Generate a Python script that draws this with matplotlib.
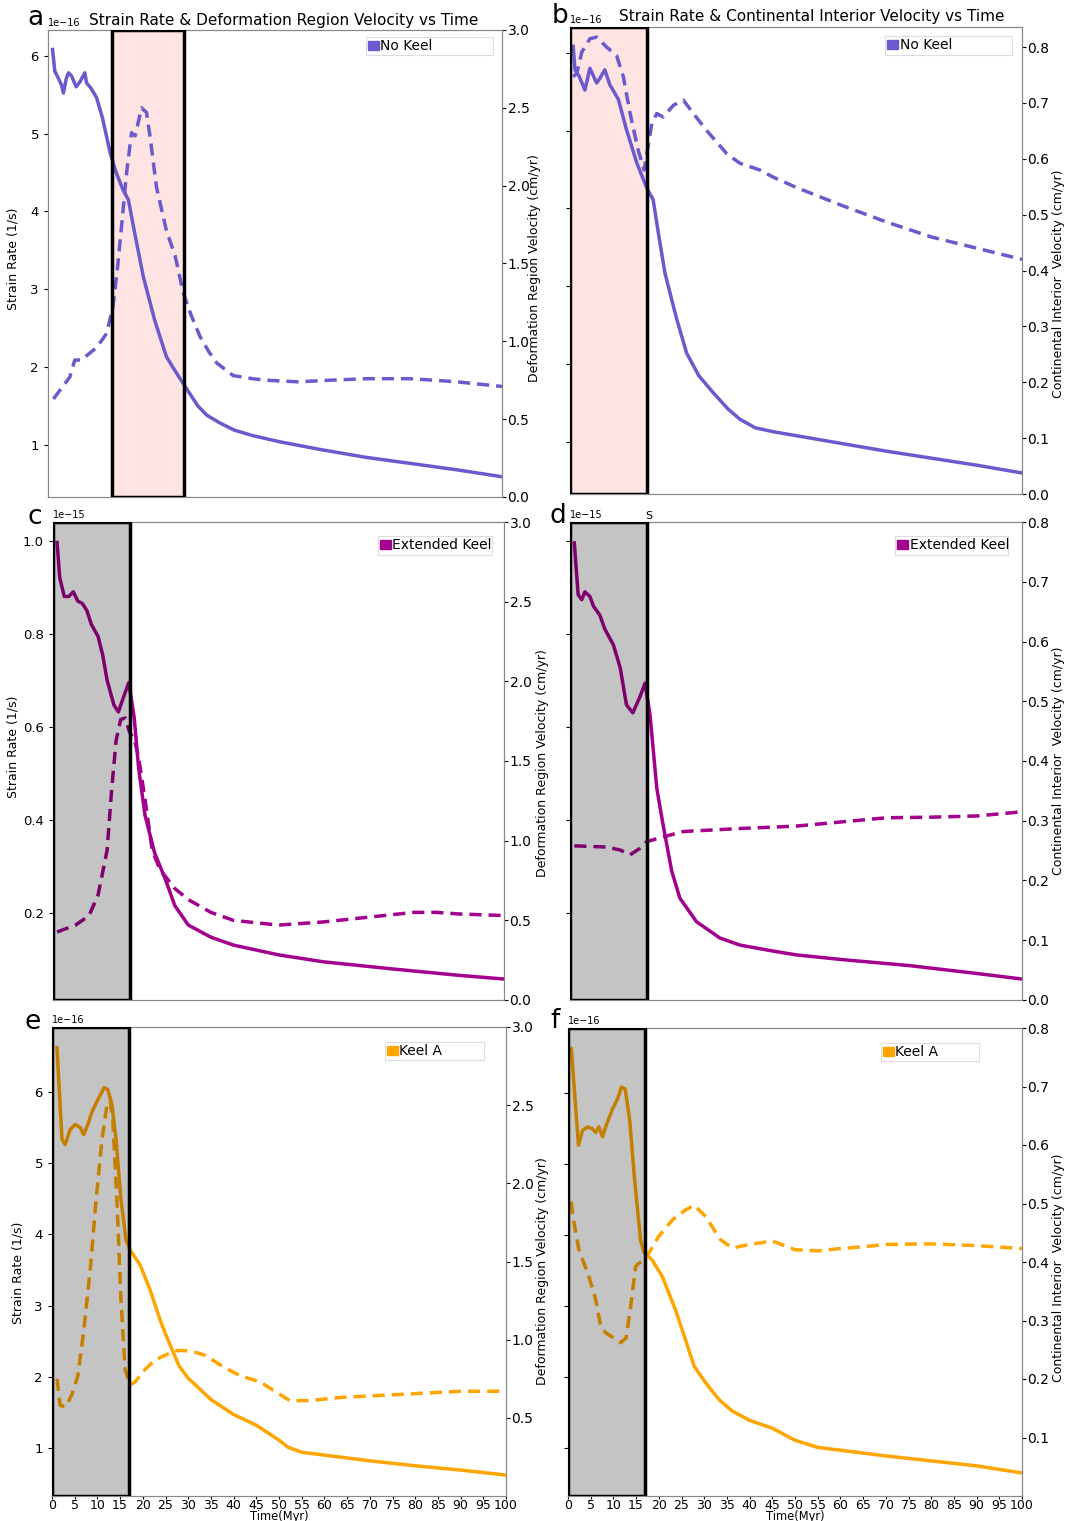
import matplotlib
matplotlib.use("Agg")
import matplotlib.pyplot as plt
from matplotlib.patches import Patch

# ---- data (strain rate values are in units of the panel's scale) ----
a_t_strain = [1, 1.5, 2.2, 3, 3.4, 4, 4.5, 5.2, 6.2, 7, 8.1, 8.5, 9.5, 10.7, 12, 13.7, 15, 16.5, 17.7, 19,
              21, 23.5, 26.1, 28, 30.2, 33, 35, 37.9, 41, 45, 51, 60, 70, 80, 90, 100]
a_strain = [6.08, 5.8, 5.72, 5.62, 5.52, 5.7, 5.78, 5.74, 5.6, 5.66, 5.78, 5.65, 5.58, 5.46, 5.2, 4.75, 4.5,
            4.28, 4.15, 3.75, 3.16, 2.6, 2.13, 1.95, 1.75, 1.5, 1.38, 1.28, 1.19, 1.12, 1.04, 0.94, 0.84,
            0.76, 0.68, 0.59]
a_t_vel = [1.2, 3, 4.8, 5.9, 7.4, 9, 10.7, 12.9, 14.3, 15.3, 16.2, 17.3, 18.4, 19.2, 20.6, 21.7, 22.5, 23.9,
           26.1, 28, 29.8, 31.5, 33.5, 35.5, 37.2, 40.8, 45, 48.2, 55, 62, 70, 80, 90, 100]
a_vel = [0.63, 0.7, 0.77, 0.88, 0.88, 0.92, 0.96, 1.05, 1.22, 1.47, 1.74, 2.08, 2.34, 2.32, 2.5, 2.47, 2.31,
         1.99, 1.71, 1.55, 1.31, 1.17, 1.03, 0.93, 0.86, 0.78, 0.76, 0.75, 0.74, 0.75, 0.76, 0.76, 0.74, 0.71]

b_t_strain = [0.7, 1.1, 2, 3.3, 4.4, 5.9, 6.6, 7.7, 8.8, 10.7, 12.5, 14.8, 17, 18.4, 19.5, 21, 23.5, 25.8,
              28.5, 31.7, 35, 37.6, 41, 45, 50, 60, 70, 80, 90, 100]
b_strain = [6.08, 5.78, 5.7, 5.52, 5.8, 5.61, 5.67, 5.78, 5.59, 5.4, 5.01, 4.58, 4.26, 4.11, 3.7, 3.17, 2.6,
            2.14, 1.85, 1.63, 1.42, 1.29, 1.18, 1.13, 1.08, 0.98, 0.88, 0.79, 0.7, 0.6]
b_t_vel = [0.7, 1.5, 2.6, 4.4, 5.9, 8.1, 10.3, 11.8, 13.3, 15.1, 16.4, 17, 18.1, 19.2, 20.6, 22.9, 25.1,
           27.3, 30.2, 34.7, 37.6, 42, 45, 50, 60, 70, 80, 90, 100]
b_vel = [0.747, 0.753, 0.791, 0.815, 0.818, 0.8, 0.785, 0.747, 0.681, 0.615, 0.58, 0.609, 0.663, 0.681,
         0.675, 0.696, 0.705, 0.681, 0.651, 0.609, 0.592, 0.58, 0.567, 0.549, 0.517, 0.487, 0.46, 0.44, 0.42]

c_t_strain = [0.9, 1.5, 2.5, 3.5, 4.5, 5.5, 6.5, 7.5, 8.5, 10, 11, 12, 13.5, 14.5, 15.5, 16.8, 18, 19,
              20.4, 22.5, 25, 27, 30, 35, 40, 50, 60, 75, 90, 100]
c_strain = [0.996, 0.92, 0.88, 0.88, 0.89, 0.87, 0.865, 0.85, 0.82, 0.794, 0.755, 0.70, 0.647, 0.632, 0.66,
            0.695, 0.62, 0.51, 0.41, 0.33, 0.27, 0.216, 0.174, 0.148, 0.131, 0.11, 0.095, 0.08, 0.066, 0.058]
c_t_vel = [0.9, 5, 8, 10, 12, 13, 14, 15, 16, 17, 18, 19, 20.4, 22, 23.7, 27, 30, 35, 40, 50, 60, 70, 80, 85,
           90, 100]
c_vel = [0.427, 0.47, 0.53, 0.66, 0.94, 1.32, 1.63, 1.76, 1.77, 1.68, 1.64, 1.52, 1.26, 0.94, 0.82, 0.70,
         0.63, 0.55, 0.50, 0.47, 0.49, 0.52, 0.55, 0.55, 0.54, 0.53]

d_t_strain = [0.95, 1.8, 2.6, 3.3, 4.4, 5.2, 6.6, 7.7, 9.6, 11.1, 12.5, 13.9, 15.5, 16.6, 17.7, 19.2, 20.6,
              22.5, 24.3, 28, 33.2, 37.6, 45, 50, 60, 75, 90, 100]
d_strain = [0.995, 0.884, 0.873, 0.89, 0.88, 0.859, 0.84, 0.81, 0.776, 0.727, 0.647, 0.63, 0.665, 0.694,
            0.626, 0.468, 0.389, 0.29, 0.232, 0.181, 0.146, 0.131, 0.118, 0.11, 0.1, 0.087, 0.07, 0.058]
d_t_vel = [0.95, 8.1, 11.1, 13.3, 15.5, 17, 20.6, 25.1, 37.6, 50, 60, 70, 80, 90, 100]
d_vel = [0.258, 0.256, 0.251, 0.243, 0.254, 0.265, 0.273, 0.282, 0.287, 0.291, 0.298, 0.305, 0.306,
         0.308, 0.315]

e_t_strain = [1.1, 2.2, 2.9, 4, 5.1, 6.2, 7, 7.9, 8.8, 10.1, 11.5, 12.3, 13.2, 14.1, 15.2, 16.3, 17.2, 19.4,
              21.6, 23.8, 25, 28, 30, 35, 40, 45, 50, 52, 55, 60, 70, 80, 90, 100]
e_strain = [6.62, 5.33, 5.26, 5.47, 5.54, 5.5, 5.4, 5.54, 5.72, 5.89, 6.06, 6.03, 5.82, 5.33, 4.48, 3.92,
            3.78, 3.57, 3.22, 2.8, 2.6, 2.15, 1.98, 1.68, 1.47, 1.32, 1.11, 1.01, 0.94, 0.9, 0.82, 0.75,
            0.69, 0.62]
e_t_vel = [1.1, 1.8, 3, 4.4, 5.7, 7, 8.4, 9.7, 11, 12.1, 12.8, 13.4, 14.3, 15.2, 16.1, 17.2, 18.3, 20.5,
           22.7, 24.9, 27.1, 29.3, 31.5, 33.7, 35.9, 38.1, 41.4, 45.8, 50.2, 52.4, 56.8, 63.4, 70, 76.7,
           83.3, 89.9, 100]
e_vel = [0.75, 0.58, 0.57, 0.65, 0.77, 1.06, 1.44, 1.89, 2.28, 2.5, 2.53, 2.4, 1.89, 1.25, 0.81, 0.71,
         0.73, 0.81, 0.87, 0.9, 0.93, 0.93, 0.92, 0.9, 0.86, 0.82, 0.77, 0.73, 0.65, 0.61, 0.61, 0.63,
         0.64, 0.65, 0.66, 0.67, 0.67]

f_t_strain = [0.73, 2.3, 3.2, 4.3, 5.4, 6.1, 6.8, 7.6, 8.3, 9.8, 10.9, 11.8, 12.6, 13.6, 14.5, 15.4, 16,
              16.7, 18.6, 20.8, 23.7, 25.9, 27.8, 30.3, 33.3, 36.2, 40, 45, 50, 55, 60, 70, 80, 90, 100]
f_strain = [6.62, 5.26, 5.47, 5.52, 5.49, 5.44, 5.52, 5.38, 5.52, 5.77, 5.91, 6.08, 6.05, 5.61, 4.9, 4.3,
            3.92, 3.76, 3.64, 3.41, 2.94, 2.52, 2.15, 1.92, 1.68, 1.52, 1.39, 1.28, 1.11, 1.01, 0.97,
            0.89, 0.82, 0.75, 0.65]
f_t_vel = [0.73, 0.95, 2.4, 4.6, 6.1, 7.2, 8.3, 10.1, 11.6, 12.8, 13.8, 14.9, 15.6, 16.7, 17.8, 20, 23,
           25.9, 27.8, 30.3, 33.6, 36.2, 40, 45, 50, 55, 60, 65, 70, 80, 90, 100]
f_vel = [0.503, 0.484, 0.421, 0.375, 0.336, 0.29, 0.279, 0.27, 0.262, 0.27, 0.324, 0.392, 0.398, 0.401,
         0.415, 0.444, 0.472, 0.489, 0.497, 0.478, 0.438, 0.424, 0.43, 0.436, 0.421, 0.419, 0.423,
         0.426, 0.43, 0.431, 0.428, 0.423]

time_ticks = list(range(0, 101, 5))

purple = "#6a5acd"
magenta = "#a3008e"
orange = "#ffa500"

W, H = 1067, 1521
fig = plt.figure(figsize=(W / 100, H / 100), dpi=100)


def add_ax(l, r, t, b):
    return fig.add_axes([l / W, 1 - b / H, (r - l) / W, (b - t) / H])


def panel(box, t_s, strain, scale, t_v, vel, color, label, span, shade, sy, vy, vticks,
          sticks, left_labels, bottom, vlabel, legend_box, slab_pos, vlab_pos):
    ax = add_ax(*box)
    ax.plot(t_s, [s * scale for s in strain], color=color, lw=2.5, zorder=3)
    ax.set_xlim(0, 100)
    ax.set_ylim(sy[0] * scale, sy[1] * scale)
    ax.set_yticks([s * scale for s in sticks])
    ax.yaxis.get_offset_text().set_fontsize(7)
    ax.tick_params(axis="y", labelsize=9.5, length=3, labelleft=left_labels)
    if not left_labels:
        # tick labels are hidden, keep the exponent note
        ax.text(0.0, 1.004, "1e\u221216" if scale == 1e-16 else "1e\u221215", transform=ax.transAxes,
                fontsize=7, ha="left", va="bottom")
    if bottom:
        ax.set_xticks(time_ticks)
        ax.tick_params(axis="x", labelsize=9, length=2, pad=0)
        ax.set_xlabel("Time(Myr)", fontsize=8.3)
        ax.xaxis.set_label_coords(0.5, -0.029)
    else:
        ax.tick_params(axis="x", bottom=False, labelbottom=False)
    if left_labels:
        ax.set_ylabel("Strain Rate (1/s)", fontsize=9)
        ax.yaxis.set_label_coords(*slab_pos)

    ax2 = ax.twinx()
    ax2.plot(t_v, vel, color=color, lw=2.5, ls=(0, (3.5, 2)))
    ax2.set_ylim(*vy)
    ax2.set_yticks(vticks)
    ax2.tick_params(axis="y", labelsize=10, length=3, pad=1)
    ax2.set_ylabel(vlabel, fontsize=9)
    ax2.yaxis.set_label_coords(*vlab_pos)
    if shade is None:
        # light pink band sits under the curves
        ax.axvspan(span[0], span[1], facecolor="#ffe4e3", zorder=0)
    else:
        # translucent dark band over the curves
        ax2.axvspan(span[0], span[1], facecolor="black", alpha=0.23, zorder=5)
    ax2.axvspan(span[0], span[1], facecolor="none", edgecolor="black", lw=2.5, zorder=6)

    for a in (ax, ax2):
        for sp in a.spines.values():
            sp.set_color("#888888")
            sp.set_linewidth(0.8)

    leg = ax2.legend(handles=[Patch(color=color, label=label)], loc="upper left",
                     bbox_to_anchor=legend_box, mode="expand", fontsize=10,
                     handlelength=0.8, handleheight=0.6, handletextpad=0.1,
                     borderpad=0.15, borderaxespad=0, fancybox=False, framealpha=1)
    leg.get_frame().set_edgecolor("#dddddd")
    leg.get_frame().set_linewidth(0.8)
    return ax, ax2


def_lab = "Deformation Region Velocity (cm/yr)"
ci_lab = "Continental Interior  Velocity (cm/yr)"

panel((48, 502, 30, 497), a_t_strain, a_strain, 1e-16, a_t_vel, a_vel, purple, "No Keel", (14, 30), None,
      (0.33, 6.33), (0, 3.0), [0, 0.5, 1.0, 1.5, 2.0, 2.5, 3.0], [1, 2, 3, 4, 5, 6], True, False,
      def_lab, (0.70, 0.985, 0.28, 0.0), (-0.062, 0.51), (1.057, 0.49))
panel((570, 1022, 27, 494), b_t_strain, b_strain, 1e-16, b_t_vel, b_vel, purple, "No Keel", (0, 17), None,
      (0.33, 6.33), (0, 0.836), [0, 0.1, 0.2, 0.3, 0.4, 0.5, 0.6, 0.7, 0.8], [1, 2, 3, 4, 5, 6], False,
      False, ci_lab, (0.697, 0.98, 0.281, 0.0), (-0.068, 0.5), (1.066, 0.45))
panel((53, 504, 522, 1000), c_t_strain, c_strain, 1e-15, c_t_vel, c_vel, magenta, "Extended Keel",
      (0, 17), "grey", (0.013, 1.04), (0, 3.0), [0, 0.5, 1.0, 1.5, 2.0, 2.5, 3.0],
      [0.2, 0.4, 0.6, 0.8, 1.0], True, False, def_lab, (0.72, 0.97, 0.253, 0.0), (-0.075, 0.53),
      (1.071, 0.496))
panel((570, 1022, 522, 1000), d_t_strain, d_strain, 1e-15, d_t_vel, d_vel, magenta, "Extended Keel",
      (0, 17), "grey", (0.013, 1.04), (0, 0.8), [0, 0.1, 0.2, 0.3, 0.4, 0.5, 0.6, 0.7, 0.8],
      [0.2, 0.4, 0.6, 0.8, 1.0], False, False, ci_lab, (0.719, 0.97, 0.25, 0.0), (-0.068, 0.5),
      (1.066, 0.5))
panel((52, 506, 1027, 1496), e_t_strain, e_strain, 1e-16, e_t_vel, e_vel, orange, "Keel A", (0, 17), "grey",
      (0.326, 6.91), (0, 3.0), [0.5, 1.0, 1.5, 2.0, 2.5, 3.0], [1, 2, 3, 4, 5, 6], True, True,
      def_lab, (0.733, 0.968, 0.219, 0.0), (-0.06, 0.475), (1.066, 0.48))
panel((568, 1022, 1028, 1496), f_t_strain, f_strain, 1e-16, f_t_vel, f_vel, orange, "Keel A", (0, 17), "grey",
      (0.326, 6.91), (0, 0.8), [0.1, 0.2, 0.3, 0.4, 0.5, 0.6, 0.7, 0.8], [1, 2, 3, 4, 5, 6], False, True,
      ci_lab, (0.689, 0.968, 0.216, 0.0), (-0.068, 0.5), (1.066, 0.487))

# titles and panel letters
fig.text(284 / W, 1 - 21 / H, "Strain Rate & Deformation Region Velocity vs Time", fontsize=11,
         ha="center", va="center")
fig.text(812 / W, 1 - 17 / H, "Strain Rate & Continental Interior Velocity vs Time", fontsize=11,
         ha="center", va="center")
for letter, x, y in [("a", 35, 18), ("b", 560, 16), ("c", 35, 517), ("d", 558, 516),
                     ("e", 33, 1022), ("f", 555, 1021)]:
    fig.text(x / W, 1 - y / H, letter, fontsize=19, ha="center", va="center")
fig.text(649 / W, 1 - 516 / H, "S", fontsize=8, ha="center", va="center")

fig.savefig("out.png", dpi=100)
